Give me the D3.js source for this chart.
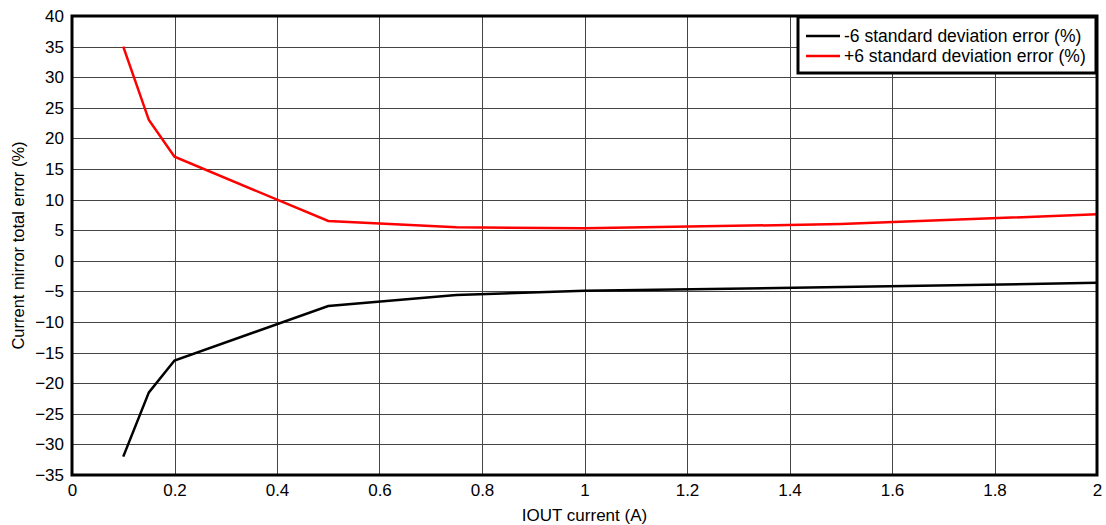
<!DOCTYPE html>
<html>
<head>
<meta charset="utf-8">
<script src="https://cdn.jsdelivr.net/npm/d3@7"></script>
<style>
  body { margin: 0; background: #fff; }
  text { font-family: "Liberation Sans", Arial, sans-serif; fill: #000; }
</style>
</head>
<body>
<script>
// data
var current = [0.1, 0.15, 0.2, 0.5, 0.75, 1, 1.5, 2];
var errMinus = [-32, -21.5, -16.3, -7.4, -5.6, -4.9, -4.3, -3.6];
var errPlus = [35, 23, 17, 6.5, 5.5, 5.3, 6.0, 7.6];
var xTicks = [0, 0.2, 0.4, 0.6, 0.8, 1, 1.2, 1.4, 1.6, 1.8, 2];
var yTicks = [-35, -30, -25, -20, -15, -10, -5, 0, 5, 10, 15, 20, 25, 30, 35, 40];
var seriesNames = ["-6 standard deviation error (%)", "+6 standard deviation error (%)"];
var seriesColours = ["#000000", "#ff0000"];

var width = 1106, height = 525;
var margin = {left: 72, right: 9, top: 16, bottom: 50};

var svg = d3.select("body").append("svg")
    .attr("width", width)
    .attr("height", height);

var x = d3.scaleLinear().domain([0, 2]).range([margin.left, width - margin.right]);
var y = d3.scaleLinear().domain([-35, 40]).range([height - margin.bottom, margin.top]);

// grid
svg.append("g").selectAll("line.v")
  .data(xTicks)
  .enter().append("line")
    .attr("x1", function(d) { return Math.round(x(d)) + 0.5; })
    .attr("x2", function(d) { return Math.round(x(d)) + 0.5; })
    .attr("y1", y(-35)).attr("y2", y(40))
    .attr("stroke", "#444").attr("stroke-width", 1);

svg.append("g").selectAll("line.h")
  .data(yTicks)
  .enter().append("line")
    .attr("y1", function(d) { return Math.round(y(d)) + 0.5; })
    .attr("y2", function(d) { return Math.round(y(d)) + 0.5; })
    .attr("x1", x(0)).attr("x2", x(2))
    .attr("stroke", "#444").attr("stroke-width", 1);

// axes (labels only, frame drawn below)
var xAxis = svg.append("g")
    .attr("transform", "translate(0," + y(-35) + ")")
    .call(d3.axisBottom(x).tickValues(xTicks).tickSize(0).tickPadding(9)
      .tickFormat(function(d) { return d3.format("~g")(d); }));
xAxis.select(".domain").remove();
xAxis.selectAll("text").attr("font-size", 17).style("font-family", "Liberation Sans, Arial, sans-serif");

var yAxis = svg.append("g")
    .attr("transform", "translate(" + x(0) + ",0)")
    .call(d3.axisLeft(y).tickValues(yTicks).tickSize(0).tickPadding(8));
yAxis.select(".domain").remove();
yAxis.selectAll("text").attr("font-size", 17).style("font-family", "Liberation Sans, Arial, sans-serif");

// lines
var line = d3.line()
    .x(function(d) { return x(d[0]); })
    .y(function(d) { return y(d[1]); });

[errMinus, errPlus].forEach(function(vals, i) {
  svg.append("path")
    .datum(current.map(function(c, j) { return [c, vals[j]]; }))
    .attr("d", line)
    .attr("fill", "none")
    .attr("stroke", seriesColours[i])
    .attr("stroke-width", 2.5);
});

// frame
svg.append("rect")
    .attr("x", x(0)).attr("y", y(40))
    .attr("width", x(2) - x(0)).attr("height", y(-35) - y(40))
    .attr("fill", "none").attr("stroke", "#000").attr("stroke-width", 3);

// legend
var lg = svg.append("g").attr("transform", "translate(798,17)");
lg.append("rect")
    .attr("width", 298).attr("height", 56)
    .attr("fill", "#fff").attr("stroke", "#000").attr("stroke-width", 3);
seriesNames.forEach(function(n, i) {
  var yy = 19 + i * 20;
  lg.append("line")
    .attr("x1", 8).attr("x2", 42).attr("y1", yy).attr("y2", yy)
    .attr("stroke", seriesColours[i]).attr("stroke-width", 2.5);
  lg.append("text")
    .attr("x", 46).attr("y", yy + 6)
    .attr("font-size", 17.5)
    .text(n);
});

// axis titles
svg.append("text")
    .attr("x", (x(0) + x(2)) / 2).attr("y", 521)
    .attr("text-anchor", "middle").attr("font-size", 17)
    .text("IOUT current (A)");

svg.append("text")
    .attr("transform", "translate(24," + ((y(40) + y(-35)) / 2) + ") rotate(-90)")
    .attr("text-anchor", "middle").attr("font-size", 16.5)
    .text("Current mirror total error (%)");
</script>
</body>
</html>
